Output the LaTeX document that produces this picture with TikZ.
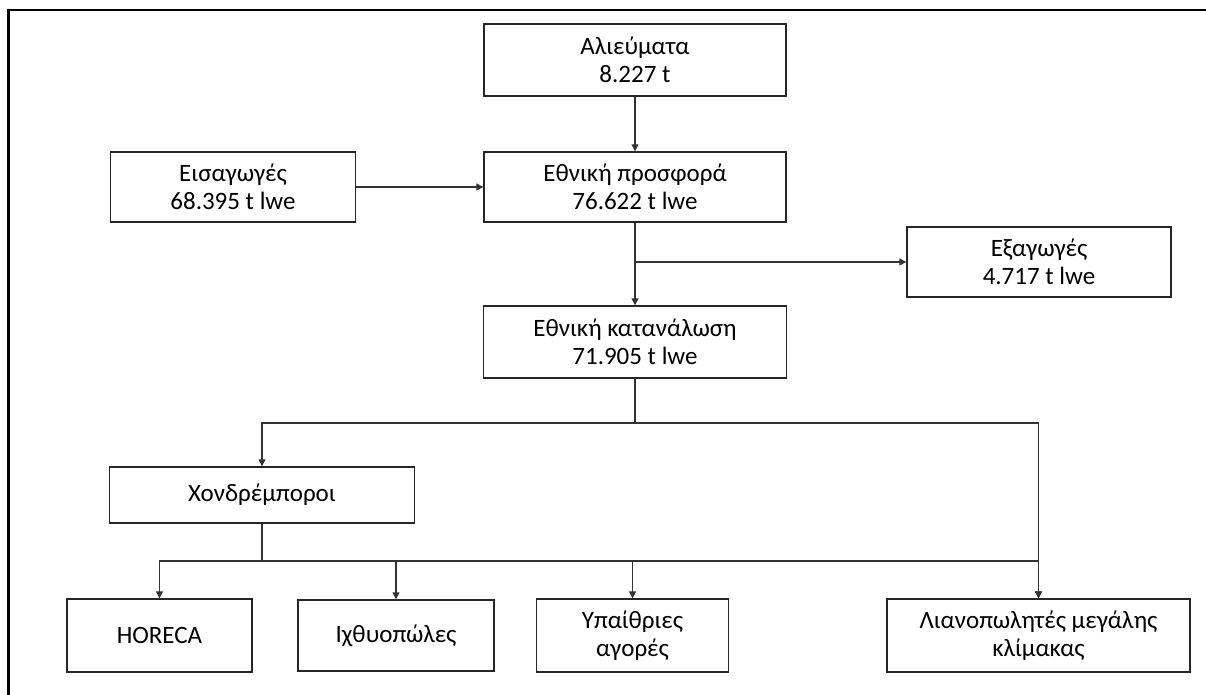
\documentclass[tikz,border=0pt]{standalone}
\usepackage{fontspec}
\setmainfont{Carlito}
\usetikzlibrary{arrows.meta}
\begin{document}
\begin{tikzpicture}[x=1pt,y=-1pt,
  box/.style={draw=black!85, line width=1.4pt, align=center, inner sep=0pt,
    font=\fontsize{25}{28}\selectfont},
  conn/.style={draw=black!80, line width=1.4pt},
  arr/.style={conn, -{Triangle[length=7pt,width=7pt]}}]
\useasboundingbox (0,0) rectangle (1206,695);
\draw[line width=2.5pt] (8.5,695) -- (8.5,10) -- (1206,10);

\node[box, minimum width=302pt, minimum height=72pt] (al) at (635,60) {Αλιεύματα\\8.227 t};
\node[box, minimum width=302pt, minimum height=70pt] (pr) at (635,187) {Εθνική προσφορά\\76.622 t lwe};
\node[box, minimum width=245pt, minimum height=70pt] (eis) at (233,187) {Εισαγωγές\\68.395 t lwe};
\node[box, minimum width=264pt, minimum height=70pt] (ex) at (1039,262) {Εξαγωγές\\4.717 t lwe};
\node[box, minimum width=303pt, minimum height=72pt] (kat) at (635,342) {Εθνική κατανάλωση\\71.905 t lwe};
\node[box, minimum width=305pt, minimum height=56pt] (ch) at (262,495) {Χονδρέμποροι};
\node[box, minimum width=185pt, minimum height=73pt] (ho) at (159.5,635.5) {HORECA};
\node[box, minimum width=196pt, minimum height=71pt] (ic) at (396,635.5) {Ιχθυοπώλες};
\node[box, minimum width=192pt, minimum height=73pt] (yp) at (632.5,635.5) {Υπαίθριες\\αγορές};
\node[box, minimum width=303pt, minimum height=73pt] (li) at (1038.5,635.5) {Λιανοπωλητές μεγάλης\\κλίμακας};

\coordinate (j1) at (635,262);
\coordinate (j2) at (635,423);
\coordinate (j3) at (262,561);

\draw[arr] (al) -- (pr);
\draw[arr] (eis) -- (pr);
\draw[arr] (pr) -- (kat);
\draw[arr] (j1) -- (ex);
\draw[conn] (kat) -- (j2);
\draw[arr] (j2) -| (ch);
\draw[arr] (j2) -| (li);
\draw[conn] (ch) -- (j3);
\draw[arr] (j3) -| (ho);
\draw[arr] (j3) -| (ic);
\draw[arr] (j3) -| (yp);
\draw[arr] (j3) -| (li);
\end{tikzpicture}
\end{document}
